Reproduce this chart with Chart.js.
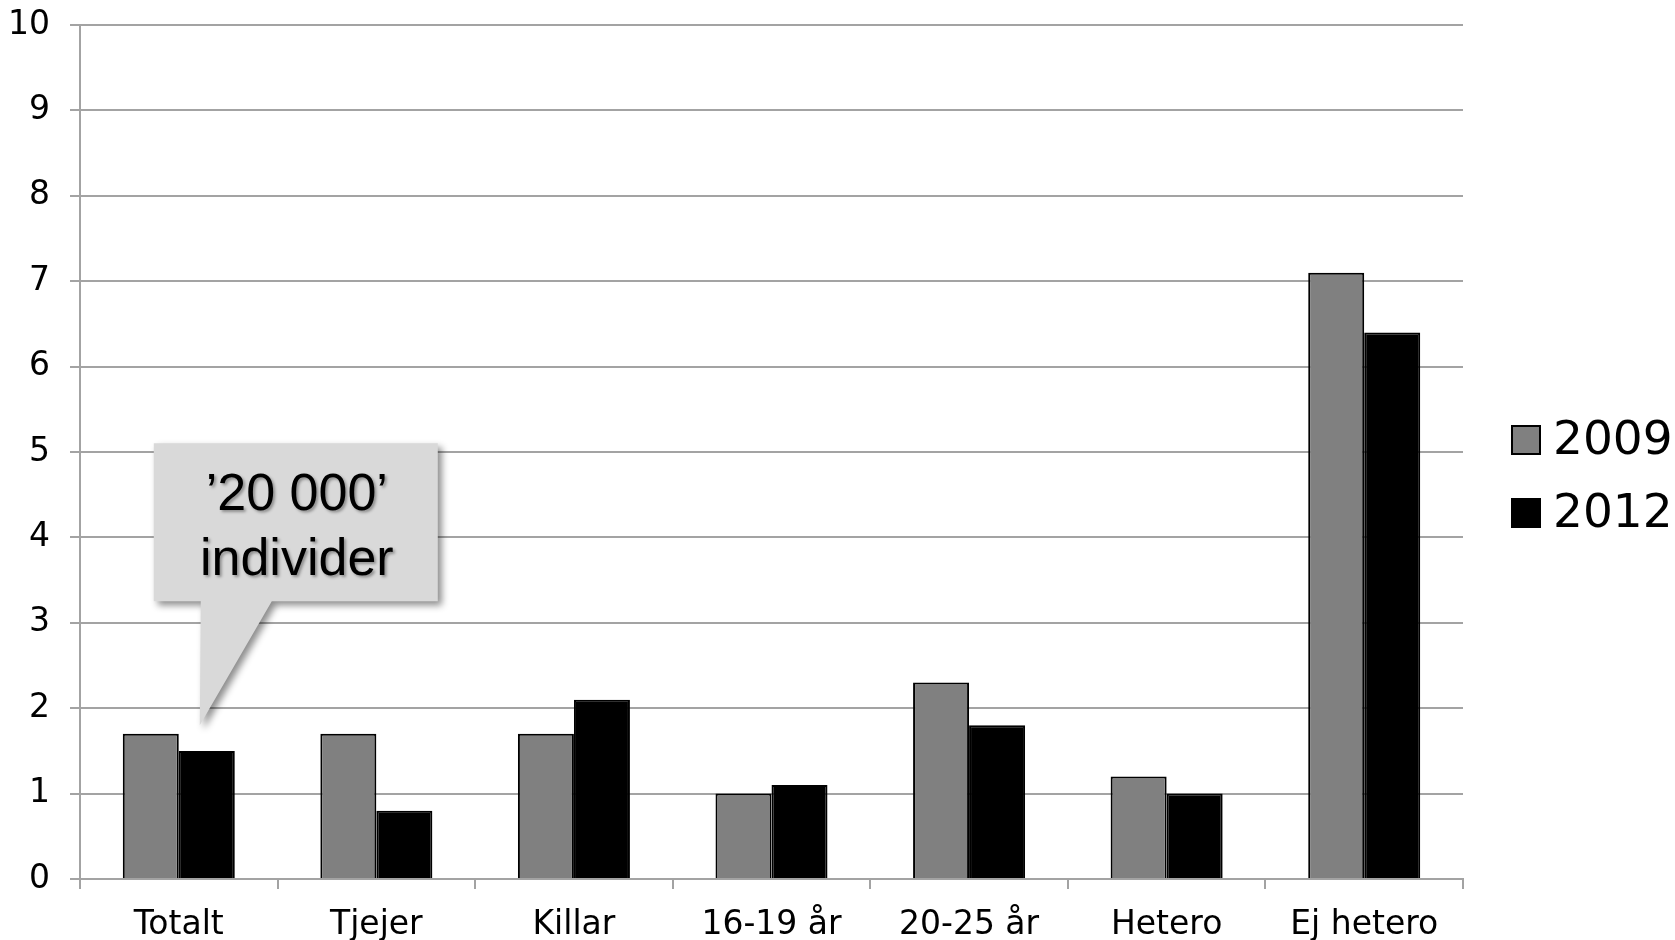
<!DOCTYPE html>
<html>
<head>
<meta charset="utf-8">
<script src="https://cdn.jsdelivr.net/npm/chart.js@4.4.1/dist/chart.umd.min.js"></script>
<style>
  html, body { margin: 0; padding: 0; background: #fff; }
  #wrap { width: 1675px; height: 940px; position: relative; }
</style>
</head>
<body>
<div id="wrap"><canvas id="chart"></canvas></div>
<script>
const categories = ["Totalt", "Tjejer", "Killar", "16-19 år", "20-25 år", "Hetero", "Ej hetero"];
const seriesNames = ["2009", "2012"];
const values2009 = [1.7, 1.7, 1.7, 1.0, 2.3, 1.2, 7.1];
const values2012 = [1.5, 0.8, 2.1, 1.1, 1.8, 1.0, 6.4];
const calloutLines = ["\u201920 000\u2019", "individer"];
const calloutValue = 1.8; // where the speech bubble points, on the Totalt bars

const gridColor = "#a3a3a3";
const tickFont = { family: "'DejaVu Sans', Verdana, sans-serif", size: 33 };

// speech bubble above the first group
const calloutPlugin = {
  id: "callout",
  afterDatasetsDraw(chart) {
    const ctx = chart.ctx;
    const x = chart.scales.x.getPixelForValue(0) + 21;
    const y = chart.scales.y.getPixelForValue(calloutValue);
    const left = x - 46, right = x + 238, top = y - 282, bottom = y - 124;
    ctx.save();
    ctx.shadowColor = "rgba(0,0,0,0.45)";
    ctx.shadowBlur = 7;
    ctx.shadowOffsetX = 4;
    ctx.shadowOffsetY = 4;
    ctx.fillStyle = "#d9d9d9";
    ctx.beginPath();
    ctx.moveTo(left, top);
    ctx.lineTo(right, top);
    ctx.lineTo(right, bottom);
    ctx.lineTo(x + 72, bottom);
    ctx.lineTo(x, y);
    ctx.lineTo(x + 1, bottom);
    ctx.lineTo(left, bottom);
    ctx.closePath();
    ctx.fill();
    ctx.shadowColor = "rgba(0,0,0,0.35)";
    ctx.shadowBlur = 3;
    ctx.shadowOffsetX = 2;
    ctx.shadowOffsetY = 2;
    ctx.fillStyle = "#000";
    ctx.font = "52px 'Liberation Sans', Arial, sans-serif";
    ctx.textAlign = "center";
    ctx.textBaseline = "alphabetic";
    ctx.fillText(calloutLines[0], x + 97, y - 215);
    ctx.fillText(calloutLines[1], x + 97, y - 150);
    ctx.restore();
  }
};

// legend at the right, drawn by hand so it sits where the original has it
const sideLegend = {
  id: "sideLegend",
  afterDraw(chart) {
    const ctx = chart.ctx;
    const bx = 1512, rows = [440, 513];
    ctx.save();
    ctx.font = "47px 'DejaVu Sans', Verdana, sans-serif";
    ctx.textBaseline = "middle";
    chart.data.datasets.forEach((ds, i) => {
      ctx.fillStyle = ds.backgroundColor;
      ctx.fillRect(bx, rows[i] - 14, 28, 28);
      ctx.strokeStyle = "#000";
      ctx.lineWidth = 2;
      ctx.strokeRect(bx, rows[i] - 14, 28, 28);
      ctx.fillStyle = "#000";
      ctx.fillText(ds.label, bx + 41, rows[i] + 2);
    });
    ctx.restore();
  }
};

new Chart(document.getElementById("chart"), {
  type: "bar",
  data: {
    labels: categories,
    datasets: [
      {
        label: seriesNames[0],
        data: values2009,
        backgroundColor: "#808080",
        borderColor: "#000",
        borderWidth: 2,
      },
      {
        label: seriesNames[1],
        data: values2012,
        backgroundColor: "#000",
        borderColor: "#000",
        borderWidth: 2,
      },
    ],
  },
  options: {
    responsive: true,
    maintainAspectRatio: false,
    animation: false,
    events: [],
    layout: { padding: { top: 25, right: 212, bottom: 0, left: 0 } },
    datasets: { bar: { categoryPercentage: 0.567, barPercentage: 1.0 } },
    plugins: {
      legend: { display: false },
      tooltip: { enabled: false },
    },
    scales: {
      x: {
        afterFit(scale) { scale.height = 61; },
        grid: { drawOnChartArea: false, drawTicks: true, tickLength: 10, color: gridColor, lineWidth: 2 },
        border: { display: true, color: gridColor, width: 2 },
        ticks: {
          color: "#000",
          padding: 17,
          font: tickFont,
          maxRotation: 0,
        },
      },
      y: {
        min: 0,
        max: 10,
        afterFit(scale) {
          scale.width = 80;
          scale.paddingTop = 0;
          scale.paddingBottom = 0;
        },
        grid: { color: gridColor, lineWidth: 2, drawTicks: true, tickLength: 10 },
        border: { display: true, color: gridColor, width: 2 },
        ticks: {
          stepSize: 1,
          color: "#000",
          padding: 20,
          font: tickFont,
        },
      },
    },
  },
  plugins: [calloutPlugin, sideLegend],
});
</script>
</body>
</html>
